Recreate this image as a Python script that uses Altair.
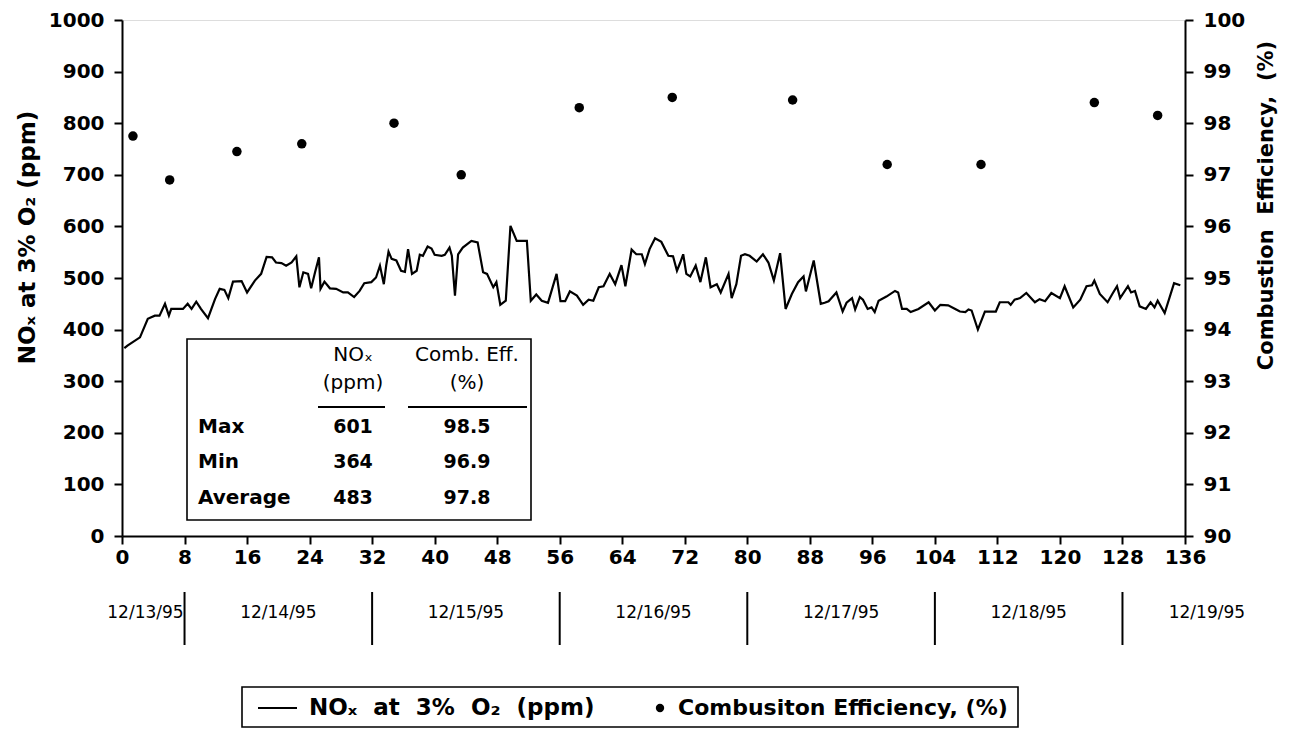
import altair as alt
import pandas as pd

# ---------------- data ----------------
hours = [0.3, 0.7, 2.3, 3.3, 4.2, 4.8, 5.5, 6.0, 6.3, 7.0, 7.8, 8.4, 8.9, 9.5, 10.1, 11.0, 11.9,
         12.5, 13.1, 13.6, 14.2, 15.3, 16.0, 17.0, 17.8, 18.5, 19.2, 19.7, 20.4, 21.0, 21.7, 22.3,
         22.7, 23.2, 23.8, 24.2, 24.7, 25.2, 25.4, 25.9, 26.6, 27.4, 28.3, 28.9, 29.7, 30.4, 31.0,
         31.9, 32.5, 33.0, 33.5, 33.8, 34.1, 34.5, 35.1, 35.7, 36.2, 36.6, 37.1, 37.7, 38.1, 38.5,
         39.1, 39.6, 40.0, 40.9, 41.3, 41.9, 42.2, 42.6, 43.0, 43.6, 44.7, 45.5, 46.2, 46.7, 47.5,
         47.9, 48.4, 49.1, 49.7, 50.5, 51.8, 52.3, 53.0, 53.7, 54.5, 55.6, 56.1, 56.7, 57.3, 58.2,
         59.0, 59.7, 60.3, 61.0, 61.6, 62.4, 63.1, 63.9, 64.4, 65.2, 65.8, 66.5, 66.9, 67.5, 68.2,
         69.0, 69.9, 70.5, 71.0, 71.4, 71.8, 72.2, 72.7, 73.4, 74.0, 74.7, 75.3, 76.1, 76.6, 77.6,
         78.0, 78.6, 79.2, 79.7, 80.3, 81.2, 82.0, 82.7, 83.4, 84.2, 84.9, 85.7, 86.5, 87.2, 87.5,
         88.5, 89.4, 89.9, 90.4, 91.4, 92.2, 92.7, 93.4, 93.8, 94.4, 94.8, 95.4, 95.9, 96.3, 96.8,
         97.8, 98.9, 99.3, 99.8, 100.4, 100.9, 101.9, 103.2, 104.0, 104.7, 105.7, 106.6, 107.2,
         107.9, 108.3, 108.7, 109.5, 110.4, 111.3, 111.8, 112.3, 113.4, 113.7, 114.2, 114.9, 115.7,
         116.8, 117.4, 118.1, 118.9, 120.0, 120.6, 121.7, 122.6, 123.4, 124.1, 124.4, 125.1, 126.1,
         126.7, 127.3, 127.7, 128.7, 129.1, 129.6, 130.2, 131.0, 131.6, 132.1, 132.5, 133.4, 134.6,
         135.4]
nox = [364, 369, 385, 421, 427, 427, 450, 427, 440, 440, 440, 450, 440, 454, 440, 422, 459,
       479, 477, 461, 493, 494, 472, 495, 508, 541, 540, 530, 529, 524, 530, 542,
       482, 511, 508, 480, 511, 540, 479, 493, 480, 479, 472, 472, 463, 475, 490,
       492, 501, 524, 488, 524, 551, 537, 534, 514, 512, 556, 508, 514, 545, 543,
       561, 557, 545, 543, 545, 559, 543, 466, 546, 559, 572, 569, 511, 508, 482,
       492, 448, 456, 601, 572, 572, 456, 468, 456, 452, 508, 455, 455, 474, 466,
       448, 458, 456, 482, 484, 508, 488, 525, 484, 555, 546, 546, 527, 556, 577,
       570, 543, 542, 514, 529, 546, 508, 503, 524, 492, 540, 482, 488, 472, 508,
       461, 488, 543, 546, 543, 532, 546, 530, 495, 548, 440, 469, 492, 503, 474,
       534, 450, 452, 455, 472, 435, 452, 461, 439, 463, 458, 440, 443, 434, 456,
       464, 475, 472, 440, 440, 434, 440, 453, 437, 448, 447, 440, 435,
       434, 439, 437, 400, 435, 435, 435, 453, 453, 448, 458, 461, 471,
       453, 459, 455, 471, 461, 484, 443, 458, 484, 486, 495, 469, 453,
       469, 484, 461, 484, 472, 475, 445, 440, 453, 443, 456, 432, 490,
       486]

eff_hours = [1.4, 6.1, 14.7, 23.0, 34.8, 43.4, 58.5, 70.4, 85.8, 97.9, 109.9, 124.4, 132.5]
eff = [97.75, 96.9, 97.45, 97.6, 98.0, 97.0, 98.3, 98.5, 98.45, 97.2, 97.2, 98.4, 98.15]

x_ticks = list(range(0, 137, 8))
nox_ticks = list(range(0, 1001, 100))
eff_ticks = list(range(90, 101))

dates = ["12/13/95", "12/14/95", "12/15/95", "12/16/95", "12/17/95", "12/18/95", "12/19/95"]
date_hours = [3.0, 20, 44, 68, 92, 116, 138.8]
sep_hours = [8, 32, 56, 80, 104, 128]

head_line1 = ["NOₓ", "Comb. Eff."]
head_line2 = ["(ppm)", "(%)"]
row_names = ["Max", "Min", "Average"]
nox_stats = ["601", "364", "483"]
eff_stats = ["98.5", "96.9", "97.8"]

NB2 = "\u00a0\u00a0"
legend_labels = ["NOₓ" + NB2 + "at" + NB2 + "3%" + NB2 + "O₂" + NB2 + "(ppm)",
                 "Combusiton Efficiency, (%)"]
y_left_title = "NOₓ at 3% O₂ (ppm)"
y_right_title = "Combustion" + NB2 + "Efficiency," + NB2 + "(%)"

# ---------------- layout ----------------
FONT = "DejaVu Sans"
W, H = 1063, 516

line_df = pd.DataFrame({"h": hours, "nox": nox})
eff_df = pd.DataFrame({"h": eff_hours, "eff": eff})
date_df = pd.DataFrame({"h": date_hours, "label": dates})
sep_df = pd.DataFrame({"h": sep_hours})
one = pd.DataFrame({"a": [0]})

x_enc = alt.X(
    "h:Q",
    scale=alt.Scale(domain=[0, 136], nice=False, zero=False),
    axis=alt.Axis(values=x_ticks, title=None, grid=False, labelFlush=False, labelOverlap=False,
                  domainColor="black", domainWidth=2, tickColor="black", tickWidth=2, tickSize=8,
                  labelFont=FONT, labelFontSize=20, labelFontWeight="bold", labelColor="black",
                  labelPadding=3),
)

line = alt.Chart(line_df).mark_line(color="black", strokeWidth=2.2).encode(
    x=x_enc,
    y=alt.Y("nox:Q", scale=alt.Scale(domain=[0, 1000], nice=False),
            axis=alt.Axis(values=nox_ticks, format="d", title=y_left_title, grid=False,
                          labelFlush=False, domainColor="black", domainWidth=2, tickColor="black",
                          tickWidth=2, tickSize=8, labelFont=FONT, labelFontSize=20,
                          labelFontWeight="bold", labelColor="black", labelPadding=10,
                          titleFont=FONT, titleFontSize=23, titleFontWeight="bold",
                          titleColor="black", titleAngle=270, titleX=-95, titleY=217,
                          titleAlign="center", titleBaseline="middle")),
)

dots = alt.Chart(eff_df).mark_circle(color="black", size=90, opacity=1).encode(
    x=x_enc,
    y=alt.Y("eff:Q", scale=alt.Scale(domain=[90, 100], nice=False, zero=False),
            axis=alt.Axis(orient="right", values=eff_ticks, format="d", title=y_right_title,
                          grid=False, labelFlush=False, domainColor="black", domainWidth=2,
                          tickColor="black", tickWidth=2, tickSize=8, labelFont=FONT,
                          labelFontSize=20, labelFontWeight="bold", labelColor="black",
                          labelPadding=10, titleFont=FONT, titleFontSize=21,
                          titleFontWeight="bold", titleColor="black", titleAngle=270,
                          titleX=81, titleY=185, titleAlign="center", titleBaseline="middle")),
)

date_text = alt.Chart(date_df).mark_text(font=FONT, fontSize=17, color="black", align="center",
                                         baseline="middle").encode(
    x=x_enc, y=alt.value(593), text="label:N")

seps = alt.Chart(sep_df).mark_rule(color="black", strokeWidth=2).encode(
    x=x_enc, y=alt.value(572), y2=alt.value(625))

layers = [line, dots, date_text, seps]

# inset table
layers.append(alt.Chart(one).mark_rect(fill="white", stroke="black", strokeWidth=1.6).encode(
    x=alt.value(65), x2=alt.value(409), y=alt.value(319), y2=alt.value(500)))
col_x = [231, 345]
under = [(196, 263), (286, 405)]
for i in range(2):
    layers.append(alt.Chart(one).mark_text(text=head_line1[i], font=FONT, fontSize=20, color="black",
                                           align="center", baseline="middle").encode(
        x=alt.value(col_x[i]), y=alt.value(335)))
    layers.append(alt.Chart(one).mark_text(text=head_line2[i], font=FONT, fontSize=20, color="black",
                                           align="center", baseline="middle").encode(
        x=alt.value(col_x[i]), y=alt.value(363)))
    layers.append(alt.Chart(one).mark_rule(color="black", strokeWidth=2).encode(
        x=alt.value(under[i][0]), x2=alt.value(under[i][1]), y=alt.value(387)))
row_y = [407, 442, 478]
for j in range(3):
    layers.append(alt.Chart(one).mark_text(text=row_names[j], font=FONT, fontSize=20,
                                           fontWeight="bold", color="black", align="left",
                                           baseline="middle").encode(
        x=alt.value(76), y=alt.value(row_y[j])))
    layers.append(alt.Chart(one).mark_text(text=nox_stats[j], font=FONT, fontSize=19,
                                           fontWeight="bold", color="black", align="center",
                                           baseline="middle").encode(
        x=alt.value(col_x[0]), y=alt.value(row_y[j])))
    layers.append(alt.Chart(one).mark_text(text=eff_stats[j], font=FONT, fontSize=19,
                                           fontWeight="bold", color="black", align="center",
                                           baseline="middle").encode(
        x=alt.value(col_x[1]), y=alt.value(row_y[j])))

# legend
layers.append(alt.Chart(one).mark_rect(fill="white", stroke="black", strokeWidth=1.6).encode(
    x=alt.value(120), x2=alt.value(896), y=alt.value(667), y2=alt.value(707)))
layers.append(alt.Chart(one).mark_rule(color="black", strokeWidth=2).encode(
    x=alt.value(136), x2=alt.value(175), y=alt.value(688)))
layers.append(alt.Chart(one).mark_circle(color="black", size=70, opacity=1).encode(
    x=alt.value(538), y=alt.value(688)))
layers.append(alt.Chart(one).mark_text(text=legend_labels[0], font=FONT, fontSize=23,
                                       fontWeight="bold", color="black", align="left",
                                       baseline="middle").encode(
    x=alt.value(187), y=alt.value(688)))
layers.append(alt.Chart(one).mark_text(text=legend_labels[1], font=FONT, fontSize=22,
                                       fontWeight="bold", color="black", align="left",
                                       baseline="middle").encode(
    x=alt.value(556), y=alt.value(688)))

chart = alt.layer(*layers).resolve_scale(y="independent").properties(
    width=W, height=H,
    autosize=alt.AutoSizeParams(type="none"),
    padding={"left": 122, "top": 20, "right": 119, "bottom": 193},
    background="white",
).configure_view(stroke="black", strokeWidth=2).configure(font=FONT)

chart.save("out.html", embed_options={"renderer": "svg", "actions": False})
